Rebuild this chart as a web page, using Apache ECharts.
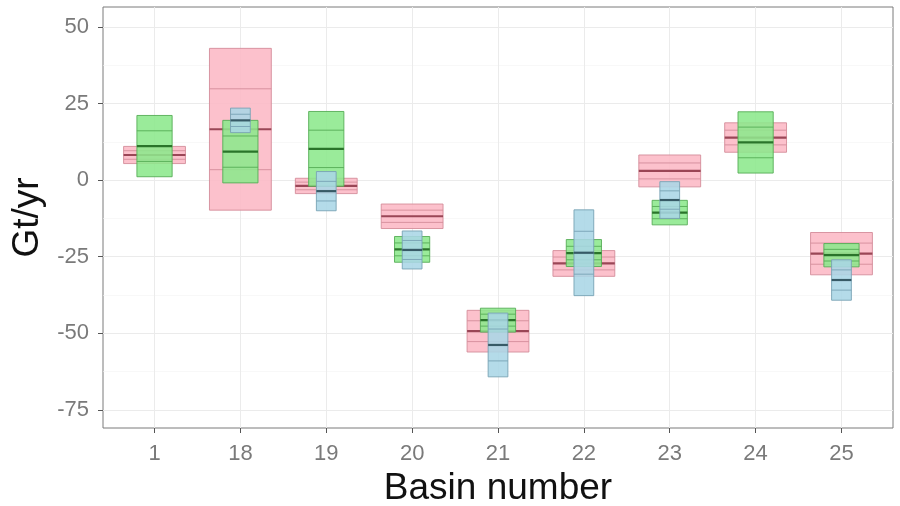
<!DOCTYPE html>
<html>
<head>
<meta charset="utf-8">
<script src="https://cdn.jsdelivr.net/npm/echarts@6/dist/echarts.min.js"></script>
<style>
html,body{margin:0;padding:0;background:#fff;}
#chart{width:900px;height:506px;}
</style>
</head>
<body>
<div id="chart"></div>
<script>
// ---- data ----
const categories = ['1', '18', '19', '20', '21', '22', '23', '24', '25'];
const yTicks = [-75, -50, -25, 0, 25, 50];
const yMinorTicks = [-62.5, -37.5, -12.5, 12.5, 37.5];
const pinkMean  = [8.2, 16.6, -1.9, -11.8, -49.3, -27.2, 3.0, 13.9, -24.0];
const pinkSd    = [1.4, 13.2, 1.25, 2.0, 3.4, 2.1, 2.6, 2.4, 3.45];
const greenMean = [11.1, 9.3, 10.2, -22.6, -45.7, -23.8, -10.6, 12.3, -24.5];
const greenSd   = [5.0, 5.1, 6.1, 2.1, 1.95, 2.2, 2.0, 5.0, 1.9];
const blueMean  = [null, 19.5, -3.6, -22.8, -53.8, -23.7, -6.5, null, -32.6];
const blueSd    = [null, 2.0, 3.2, 3.1, 5.2, 7.0, 3.0, null, 3.3];

function toData(means, sds) {
  const out = [];
  means.forEach((m, i) => { if (m !== null) out.push([i + 1, m, sds[i]]); });
  return out;
}

function makeRender(width, fill, edge, thick) {
  return function (params, api) {
    const x = api.value(0), m = api.value(1), s = api.value(2);
    const top = api.coord([x, m + 2 * s]);
    const bot = api.coord([x, m - 2 * s]);
    const half = api.size([width, 0])[0] / 2;
    const cx = top[0];
    const yAt = v => api.coord([x, v])[1];
    const line = (v, w, c) => ({
      type: 'line',
      shape: { x1: cx - half, y1: yAt(v), x2: cx + half, y2: yAt(v) },
      style: { stroke: c, lineWidth: w }
    });
    return {
      type: 'group',
      children: [
        { type: 'rect', shape: { x: cx - half, y: top[1], width: 2 * half, height: bot[1] - top[1] },
          style: { fill: fill, stroke: edge, lineWidth: 0.9 } },
        line(m + s, 0.9, edge),
        line(m - s, 0.9, edge),
        line(m, 2.2, thick)
      ]
    };
  };
}

const labelColor = '#7a7a7a';
const chart = echarts.init(document.getElementById('chart'), null, { renderer: 'canvas' });
chart.setOption({
  animation: false,
  backgroundColor: '#fff',
  grid: { left: 103, right: 7, top: 7, bottom: 78, show: true, borderColor: '#7a7a7a', borderWidth: 1,
    backgroundColor: 'transparent', containLabel: false, outerBoundsMode: 'none' },
  xAxis: {
    type: 'value', min: 0.4, max: 9.6,
    name: 'Basin number', nameLocation: 'middle', nameGap: 41,
    nameTextStyle: { color: '#111', fontSize: 37, fontFamily: 'Liberation Sans' },
    axisLine: { show: false, onZero: false },
    axisTick: { show: true, length: 5, lineStyle: { color: '#555' }, customValues: categories.map((c, i) => i + 1) },
    axisLabel: { color: labelColor, fontSize: 22, fontFamily: 'Liberation Sans', margin: 15,
      customValues: categories.map((c, i) => i + 1), formatter: v => categories[Math.round(v) - 1] },
    splitLine: { show: true, lineStyle: { color: '#ebebeb', width: 1 } }
  },
  yAxis: [{
    type: 'value', min: -80.9, max: 56.5,
    name: 'Gt/yr', nameLocation: 'middle', nameGap: 56, nameRotate: 90,
    nameTextStyle: { color: '#111', fontSize: 37, fontFamily: 'Liberation Sans' },
    axisLine: { show: false, onZero: false },
    axisTick: { show: true, length: 5, lineStyle: { color: '#555' }, customValues: yTicks },
    axisLabel: { color: labelColor, fontSize: 22, fontFamily: 'Liberation Sans', margin: 14, customValues: yTicks },
    splitLine: { show: true, lineStyle: { color: '#ebebeb', width: 1 } }
  }, {
    type: 'value', min: -80.9, max: 56.5, position: 'left',
    axisLine: { show: false, onZero: false },
    axisTick: { show: false, customValues: yMinorTicks },
    axisLabel: { show: false, customValues: yMinorTicks },
    splitLine: { show: true, lineStyle: { color: '#f4f4f4', width: 0.6 } }
  }],
  series: [
    { type: 'custom', name: 'pink', data: toData(pinkMean, pinkSd),
      renderItem: makeRender(0.72, 'rgba(252,186,198,0.9)', '#d48c9a', '#9a4656') },
    { type: 'custom', name: 'green', data: toData(greenMean, greenSd),
      renderItem: makeRender(0.41, 'rgba(140,232,140,0.88)', '#56ad56', '#2a742a') },
    { type: 'custom', name: 'blue', data: toData(blueMean, blueSd),
      renderItem: makeRender(0.23, 'rgba(170,214,230,0.88)', '#78a3b4', '#375a66') }
  ]
});
</script>
</body>
</html>
